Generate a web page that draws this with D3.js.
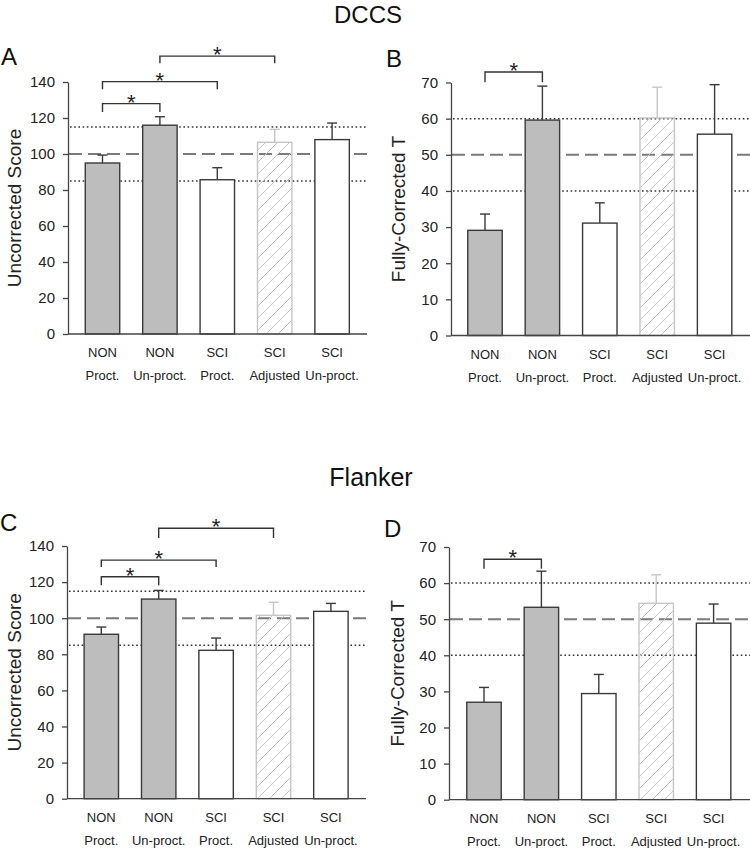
<!DOCTYPE html>
<html>
<head>
<meta charset="utf-8">
<script src="https://cdn.jsdelivr.net/npm/d3@7"></script>
<style>
  body { margin: 0; background: #fff; }
  svg { display: block; font-family: "Liberation Sans", Arial, sans-serif; }
</style>
</head>
<body>
<svg id="chart" width="750" height="848"></svg>
<script>
// ---- Data ----
const groupLine1 = ["NON", "NON", "SCI", "SCI", "SCI"];
const groupLine2 = ["Proct.", "Un-proct.", "Proct.", "Adjusted", "Un-proct."];
const barStyles = ["gray", "gray", "white", "hatch", "white"];

const dccsUncorrected = [95.0, 116.0, 85.7, 106.5, 108.0];
const dccsUncorrectedErr = [4.4, 4.7, 6.7, 7.2, 9.2];
const dccsT = [29.1, 59.6, 31.1, 60.2, 55.7];
const dccsTErr = [4.5, 9.4, 5.6, 8.5, 13.7];

const flankerUncorrected = [91.1, 110.6, 82.2, 101.6, 103.8];
const flankerUncorrectedErr = [4.0, 4.8, 6.8, 7.2, 4.4];
const flankerT = [27.0, 53.3, 29.4, 54.4, 48.9];
const flankerTErr = [4.1, 10.0, 5.3, 7.9, 5.3];

const scoreTicks = [0, 20, 40, 60, 80, 100, 120, 140];
const tTicks = [0, 10, 20, 30, 40, 50, 60, 70];
const scoreRefDotted = [85, 115];
const scoreRefDashed = [100];
const tRefDotted = [40, 60];
const tRefDashed = [50];

// significance brackets: [from, to, level, tickEnd]
const sigA = [[0, 1, 128, 123.3], [0, 2, 140.2, 136], [1, 3, 154.4, 150.4]];
const sigB = [[0, 1, 72.9, 70.1]];
const sigC = [[0, 1, 123, 118.2], [0, 2, 132.2, 128.4], [1, 3, 149.8, 144.4]];
const sigD = [[0, 1, 66.6, 64.0]];

const svg = d3.select("#chart");
const defs = svg.append("defs");
defs.append("pattern")
  .attr("id", "hatch").attr("patternUnits", "userSpaceOnUse")
  .attr("width", 12).attr("height", 12)
  .append("path")
  .attr("d", "M0,12 L12,0 M-3,3 L3,-3 M9,15 L15,9")
  .attr("stroke", "#c4c4c4").attr("stroke-width", 1).attr("fill", "none");

const FONT = "'Liberation Sans', Arial, sans-serif";

// Titles
svg.append("text").attr("x", 368).attr("y", 23).attr("text-anchor", "middle")
  .attr("font-size", 24).attr("fill", "#111").text("DCCS");
svg.append("text").attr("x", 371).attr("y", 485.5).attr("text-anchor", "middle")
  .attr("font-size", 25).attr("fill", "#111").text("Flanker");

function panel(cfg) {
  const g = svg.append("g");
  const y = d3.scaleLinear().domain([0, cfg.max]).range([cfg.y0, cfg.y1]);
  const x = d3.scaleBand().domain(d3.range(5))
    .range([cfg.bandStart, cfg.bandStart + 5 * 57.4])
    .paddingInner(0.4).paddingOuter(0.2);

  // reference lines
  cfg.dotted.forEach(v => {
    g.append("line").attr("x1", cfg.axisX + 2).attr("x2", cfg.axisEnd)
      .attr("y1", y(v)).attr("y2", y(v))
      .attr("stroke", "#333").attr("stroke-width", 1.5).attr("stroke-dasharray", "1.6,2.6");
  });
  cfg.dashed.forEach(v => {
    g.append("line").attr("x1", cfg.axisX + 1).attr("x2", cfg.axisEnd)
      .attr("y1", y(v)).attr("y2", y(v))
      .attr("stroke", "#7a7a7a").attr("stroke-width", 2).attr("stroke-dasharray", "13,6");
  });

  // bars
  const data = cfg.values.map((v, i) => ({ i, v, e: cfg.errs[i], s: barStyles[i] }));
  const col = d => d.s === "hatch" ? "#c6c6c6" : "#3a3a3a";

  g.selectAll(".err").data(data).enter().append("g").each(function (d) {
    const cx = x(d.i) + x.bandwidth() / 2;
    const gg = d3.select(this);
    gg.append("line").attr("x1", cx).attr("x2", cx).attr("y1", y(d.v)).attr("y2", y(d.v + d.e))
      .attr("stroke", col(d)).attr("stroke-width", 1.4);
    gg.append("line").attr("x1", cx - 5).attr("x2", cx + 5).attr("y1", y(d.v + d.e)).attr("y2", y(d.v + d.e))
      .attr("stroke", col(d)).attr("stroke-width", 1.4);
  });

  g.selectAll(".bar").data(data).enter().append("rect")
    .attr("x", d => x(d.i)).attr("width", x.bandwidth())
    .attr("y", d => y(d.v)).attr("height", d => y(0) - y(d.v))
    .attr("fill", d => d.s === "gray" ? "#bdbdbd" : (d.s === "hatch" ? "url(#hatch)" : "#fff"))
    .attr("stroke", col).attr("stroke-width", 1.4);

  // axes
  const ax = g.append("g").attr("transform", `translate(${cfg.axisX},0)`)
    .call(d3.axisLeft(y).tickValues(cfg.ticks).tickSizeInner(5).tickSizeOuter(0).tickPadding(8));
  ax.select(".domain").attr("stroke", "#444").attr("stroke-width", 1.3);
  ax.selectAll(".tick line").attr("stroke", "#444").attr("stroke-width", 1.3);
  ax.selectAll(".tick text").attr("font-size", 15).attr("fill", "#222").attr("font-family", FONT);

  g.append("line").attr("x1", cfg.axisX).attr("x2", cfg.axisEnd)
    .attr("y1", y(0)).attr("y2", y(0)).attr("stroke", "#444").attr("stroke-width", 1.3);

  // x labels
  data.forEach(d => {
    const cx = x(d.i) + x.bandwidth() / 2;
    g.append("text").attr("x", cx).attr("y", y(0) + 23).attr("text-anchor", "middle")
      .attr("font-size", 13).attr("fill", "#222").text(groupLine1[d.i]);
    g.append("text").attr("x", cx).attr("y", y(0) + 46).attr("text-anchor", "middle")
      .attr("font-size", 13).attr("fill", "#222").text(groupLine2[d.i]);
  });

  // y label
  g.append("text").attr("transform", `translate(${cfg.labelX},${(y(0) + y(cfg.max)) / 2}) rotate(-90)`)
    .attr("text-anchor", "middle").attr("font-size", 19).attr("fill", "#222").text(cfg.yLabel);

  // panel letter
  g.append("text").attr("x", cfg.letterX).attr("y", cfg.letterY)
    .attr("font-size", 24).attr("fill", "#111").text(cfg.letter);

  // significance brackets
  cfg.sig.forEach(([a, b, lvl, end]) => {
    const xa = x(a) + x.bandwidth() / 2, xb = x(b) + x.bandwidth() / 2;
    g.append("path")
      .attr("d", `M${xa},${y(end)} V${y(lvl)} H${xb} V${y(end)}`)
      .attr("fill", "none").attr("stroke", "#333").attr("stroke-width", 1.4);
    g.append("text").attr("x", (xa + xb) / 2).attr("y", y(lvl) + 6)
      .attr("text-anchor", "middle").attr("font-size", 22).attr("fill", "#222").text("*");
  });
}

panel({ values: dccsUncorrected, errs: dccsUncorrectedErr, max: 140, ticks: scoreTicks,
  y0: 334, y1: 82, bandStart: 73.8, axisX: 68, axisEnd: 367,
  dotted: scoreRefDotted, dashed: scoreRefDashed, sig: sigA,
  yLabel: "Uncorrected Score", labelX: 21, letter: "A", letterX: 1, letterY: 65 });

panel({ values: dccsT, errs: dccsTErr, max: 70, ticks: tTicks,
  y0: 335.5, y1: 82.5, bandStart: 456.3, axisX: 451, axisEnd: 750,
  dotted: tRefDotted, dashed: tRefDashed, sig: sigB,
  yLabel: "Fully-Corrected T", labelX: 405, letter: "B", letterX: 386, letterY: 66.5 });

panel({ values: flankerUncorrected, errs: flankerUncorrectedErr, max: 140, ticks: scoreTicks,
  y0: 798.7, y1: 546, bandStart: 72.6, axisX: 67, axisEnd: 366,
  dotted: scoreRefDotted, dashed: scoreRefDashed, sig: sigC,
  yLabel: "Uncorrected Score", labelX: 21, letter: "C", letterX: 0, letterY: 531 });

panel({ values: flankerT, errs: flankerTErr, max: 70, ticks: tTicks,
  y0: 799.7, y1: 547, bandStart: 455.3, axisX: 449, axisEnd: 750,
  dotted: tRefDotted, dashed: tRefDashed, sig: sigD,
  yLabel: "Fully-Corrected T", labelX: 404, letter: "D", letterX: 384, letterY: 536.5 });
</script>
</body>
</html>
